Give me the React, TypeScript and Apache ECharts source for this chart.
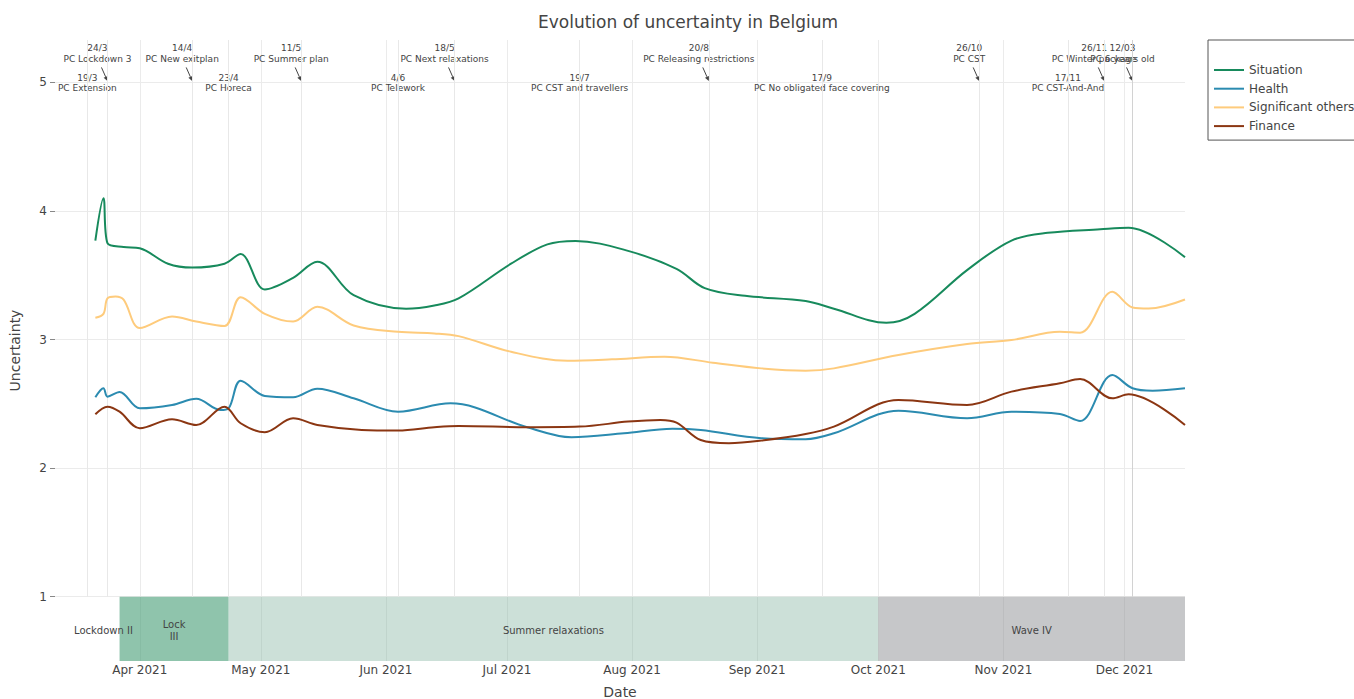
import React, { useEffect, useRef } from 'react';
import * as echarts from 'echarts';

const FONT = 'DejaVu Sans';
const TEXT = '#444';

// ---- data ----
const seriesNames = ['Situation', 'Health', 'Significant others', 'Finance'];
const seriesColors = ['#178a5c', '#2b8bb0', '#fecb7c', '#8b3612'];

const situation: [string, number][] = [
  ['2021-03-21', 3.77], ['2021-03-23', 4.1], ['2021-03-24', 3.75], ['2021-03-28', 3.72],
  ['2021-04-01', 3.71], ['2021-04-08', 3.59], ['2021-04-14', 3.56], ['2021-04-22', 3.59],
  ['2021-04-26', 3.665], ['2021-05-02', 3.39], ['2021-05-09', 3.48], ['2021-05-15', 3.605],
  ['2021-05-24', 3.345], ['2021-06-06', 3.24], ['2021-06-13', 3.265], ['2021-06-19', 3.32],
  ['2021-07-02', 3.59], ['2021-07-11', 3.74], ['2021-07-18', 3.767], ['2021-07-31', 3.69],
  ['2021-08-12', 3.55], ['2021-08-19', 3.4], ['2021-08-29', 3.34], ['2021-09-13', 3.3],
  ['2021-09-20', 3.24], ['2021-10-03', 3.13], ['2021-10-10', 3.2], ['2021-10-23', 3.54],
  ['2021-11-03', 3.77], ['2021-11-12', 3.83], ['2021-11-25', 3.858], ['2021-12-02', 3.87],
  ['2021-12-16', 3.64],
];

const health: [string, number][] = [
  ['2021-03-21', 2.551], ['2021-03-23', 2.621], ['2021-03-24', 2.556], ['2021-03-27', 2.592],
  ['2021-04-01', 2.465], ['2021-04-09', 2.491], ['2021-04-15', 2.54], ['2021-04-21', 2.452],
  ['2021-04-23', 2.465], ['2021-04-26', 2.68], ['2021-05-02', 2.561], ['2021-05-09', 2.551],
  ['2021-05-15', 2.618], ['2021-05-24', 2.543], ['2021-06-04', 2.439], ['2021-06-17', 2.504],
  ['2021-07-06', 2.318], ['2021-07-17', 2.24], ['2021-07-30', 2.271], ['2021-08-11', 2.307],
  ['2021-08-18', 2.297], ['2021-09-02', 2.233], ['2021-09-13', 2.225], ['2021-09-20', 2.271],
  ['2021-10-06', 2.447], ['2021-10-23', 2.388], ['2021-11-03', 2.439], ['2021-11-15', 2.421],
  ['2021-11-20', 2.367], ['2021-11-28', 2.724], ['2021-12-03', 2.621], ['2021-12-08', 2.602],
  ['2021-12-16', 2.621],
];

const significantOthers: [string, number][] = [
  ['2021-03-21', 3.17], ['2021-03-23', 3.2], ['2021-03-24', 3.32], ['2021-03-26', 3.335],
  ['2021-03-28', 3.31], ['2021-04-01', 3.09], ['2021-04-09', 3.18], ['2021-04-15', 3.14],
  ['2021-04-22', 3.105], ['2021-04-26', 3.33], ['2021-05-02', 3.2], ['2021-05-09', 3.14],
  ['2021-05-15', 3.255], ['2021-05-24', 3.11], ['2021-06-04', 3.06], ['2021-06-13', 3.048],
  ['2021-06-19', 3.027], ['2021-07-02', 2.905], ['2021-07-16', 2.835], ['2021-07-27', 2.846],
  ['2021-08-09', 2.867], ['2021-08-21', 2.82], ['2021-09-02', 2.776], ['2021-09-13', 2.758],
  ['2021-09-20', 2.776], ['2021-10-06', 2.88], ['2021-10-23', 2.965], ['2021-11-03', 2.996],
  ['2021-11-15', 3.06], ['2021-11-20', 3.053], ['2021-11-28', 3.371], ['2021-12-03', 3.25],
  ['2021-12-07', 3.242], ['2021-12-16', 3.312],
];

const finance: [string, number][] = [
  ['2021-03-21', 2.419], ['2021-03-24', 2.478], ['2021-03-27', 2.439], ['2021-04-01', 2.31],
  ['2021-04-09', 2.38], ['2021-04-15', 2.336], ['2021-04-22', 2.478], ['2021-04-26', 2.349],
  ['2021-05-02', 2.279], ['2021-05-09', 2.388], ['2021-05-15', 2.336], ['2021-05-26', 2.297],
  ['2021-06-04', 2.292], ['2021-06-13', 2.318], ['2021-06-19', 2.328], ['2021-07-06', 2.318],
  ['2021-07-19', 2.323], ['2021-07-31', 2.362], ['2021-08-08', 2.375], ['2021-08-12', 2.354],
  ['2021-08-18', 2.219], ['2021-08-25', 2.194], ['2021-09-02', 2.214], ['2021-09-13', 2.265],
  ['2021-09-20', 2.323], ['2021-10-06', 2.53], ['2021-10-23', 2.491], ['2021-11-03', 2.595],
  ['2021-11-15', 2.66], ['2021-11-20', 2.693], ['2021-11-28', 2.543], ['2021-12-02', 2.574],
  ['2021-12-16', 2.336],
];

const xTickDates = ['2021-04-01', '2021-05-01', '2021-06-01', '2021-07-01', '2021-08-01',
  '2021-09-01', '2021-10-01', '2021-11-01', '2021-12-01'];
const xTickLabels = ['Apr 2021', 'May 2021', 'Jun 2021', 'Jul 2021', 'Aug 2021',
  'Sep 2021', 'Oct 2021', 'Nov 2021', 'Dec 2021'];
const yTickValues = [1, 2, 3, 4, 5];

// phases: [name, start, end, color]
const phases: [string, string, string, string][] = [
  ['Lockdown II', '2021-03-19', '2021-03-27', 'rgba(255,255,255,0)'],
  ['Lock\nIII', '2021-03-27', '2021-04-23', 'rgba(68,157,117,0.6)'],
  ['Summer relaxations', '2021-04-23', '2021-10-01', 'rgba(128,178,158,0.4)'],
  ['Wave IV', '2021-10-01', '2021-12-16', 'rgba(141,143,147,0.5)'],
];

// annotations: [date, date label, text, withArrow]
const annotations: [string, string, string, boolean][] = [
  ['2021-03-19', '19/3', 'PC Extension', false],
  ['2021-03-24', '24/3', 'PC Lockdown 3', true],
  ['2021-04-14', '14/4', 'PC New exitplan', true],
  ['2021-04-23', '23/4', 'PC Horeca', false],
  ['2021-05-11', '11/5', 'PC Summer plan', true],
  ['2021-06-04', '4/6', 'PC Telework', false],
  ['2021-06-18', '18/5', 'PC Next relaxations', true],
  ['2021-07-19', '19/7', 'PC CST and travellers', false],
  ['2021-08-20', '20/8', 'PC Releasing restrictions', true],
  ['2021-09-17', '17/9', 'PC No obligated face covering', false],
  ['2021-10-26', '26/10', 'PC CST', true],
  ['2021-11-17', '17/11', 'PC CST-And-And', false],
  ['2021-11-26', '26/11', 'PC Winter package', true],
  ['2021-12-03', '12/03', 'PC 6 years old', true],
];

const X_MIN = '2021-03-11';
const X_MAX = '2021-12-16';
const Y_MIN = 0.5;
const Y_MAX = 5.33;

const t = (s: string) => {
  const [y, m, d] = s.split('-').map(Number);
  return Date.UTC(y, m - 1, d);
};

export default function App() {
  const ref = useRef<HTMLDivElement>(null);

  useEffect(() => {
    const chart = echarts.init(ref.current!, null, { renderer: 'svg', width: 1354, height: 699 });
    const tickTs = xTickDates.map(t);
    const allData = [situation, health, significantOthers, finance];

    const lineSeries = allData.map((d, i) => ({
      name: seriesNames[i],
      type: 'line',
      data: d.map(([dt, v]) => [t(dt), v]),
      smooth: 0.35,
      symbol: 'none',
      lineStyle: { width: 2, color: seriesColors[i] },
      itemStyle: { color: seriesColors[i] },
      z: 5,
    }));

    const option: any = {
      animation: false,
      textStyle: { fontFamily: FONT, color: TEXT },
      title: {
        text: 'Evolution of uncertainty in Belgium',
        left: 538,
        top: 13,
        padding: 0,
        textStyle: { fontFamily: FONT, fontSize: 17, fontWeight: 'normal', color: TEXT },
      },
      legend: {
        data: seriesNames,
        orient: 'vertical',
        left: 1208,
        top: 40,
        padding: [24, 6, 8, 5],
        itemWidth: 30,
        itemHeight: 12,
        itemGap: 6.7,
        borderColor: '#555',
        borderWidth: 1,
        backgroundColor: '#fff',
        itemStyle: { opacity: 0 },
        lineStyle: { width: 2 },
        textStyle: { fontFamily: FONT, fontSize: 12, color: TEXT },
      },
      grid: { left: 55, right: 169, top: 40, bottom: 38, outerBoundsMode: 'none' },
      xAxis: {
        type: 'value',
        min: t(X_MIN),
        max: t(X_MAX),
        name: 'Date',
        nameLocation: 'middle',
        nameGap: 24,
        nameTextStyle: { fontFamily: FONT, fontSize: 14, color: TEXT },
        axisLine: { show: false },
        axisTick: { show: false, customValues: tickTs },
        axisLabel: {
          customValues: tickTs,
          margin: 3,
          fontSize: 12,
          color: TEXT,
          fontFamily: FONT,
          formatter: (v: number) => {
            let best = 0;
            tickTs.forEach((ts, i) => {
              if (Math.abs(ts - v) < Math.abs(tickTs[best] - v)) best = i;
            });
            return xTickLabels[best];
          },
        },
        splitLine: { show: true, lineStyle: { color: '#ebebeb', width: 1 } },
      },
      yAxis: {
        type: 'value',
        min: Y_MIN,
        max: Y_MAX,
        name: 'Uncertainty',
        nameLocation: 'middle',
        nameGap: 33,
        nameTextStyle: { fontFamily: FONT, fontSize: 14, color: TEXT },
        axisLine: { show: false },
        axisTick: { show: true, length: 5, customValues: yTickValues, lineStyle: { color: '#888' } },
        axisLabel: {
          customValues: yTickValues,
          margin: 8,
          fontSize: 12,
          color: TEXT,
          fontFamily: FONT,
        },
        splitLine: { show: true, lineStyle: { color: '#ebebeb', width: 1 } },
      },
      series: [
        {
          name: 'phases',
          type: 'line',
          data: [],
          silent: true,
          z: 1,
          markArea: {
            silent: true,
            data: phases.map(([name, s, e, color]) => [
              {
                name,
                coord: [t(s), Y_MIN],
                itemStyle: { color },
                label: {
                  show: true,
                  position: 'inside',
                  offset: [0, 2],
                  color: TEXT,
                  fontSize: 10,
                  lineHeight: 12,
                  fontFamily: FONT,
                },
              },
              { coord: [t(e), 1] },
            ]),
          },
        },
        {
          name: 'events',
          type: 'line',
          data: [],
          silent: true,
          z: 2,
          markLine: {
            silent: true,
            symbol: 'none',
            label: { show: false },
            data: annotations.map(([d]) => [
              {
                coord: [t(d), 1],
                lineStyle: { color: d === '2021-12-03' ? '#d2d2d2' : '#e8e8e8', width: 1, type: 'solid' },
              },
              { coord: [t(d), Y_MAX] },
            ]),
          },
        },
        ...lineSeries,
      ],
    };

    chart.setOption(option);

    const graphics: any[] = [
      {
        type: 'text',
        x: 1211,
        y: 51,
        style: {
          text: 'Type of uncertainty',
          fill: TEXT,
          fontSize: 11,
          fontFamily: FONT,
          verticalAlign: 'middle',
        },
      },
    ];

    annotations.forEach(([d, dl, txt, arrow]) => {
      const p = chart.convertToPixel({ xAxisIndex: 0, yAxisIndex: 0 }, [t(d), 5]) as number[];
      const x = p[0];
      const y = p[1];
      if (arrow) {
        graphics.push({
          type: 'text',
          x: x - 10,
          y: y - 29,
          style: {
            text: dl + '\n' + txt,
            fill: TEXT,
            fontSize: 9,
            fontFamily: FONT,
            align: 'center',
            verticalAlign: 'middle',
            lineHeight: 10.5,
          },
        });
        const tailX = x - 6;
        const tailY = y - 15;
        const tipX = x;
        const tipY = y - 1.5;
        const dx = tipX - tailX;
        const dy = tipY - tailY;
        const len = Math.sqrt(dx * dx + dy * dy);
        const ux = dx / len;
        const uy = dy / len;
        const hl = 4.5;
        const hw = 2.2;
        const bx = tipX - ux * hl;
        const by = tipY - uy * hl;
        graphics.push({
          type: 'line',
          shape: { x1: tailX, y1: tailY, x2: bx, y2: by },
          style: { stroke: TEXT, lineWidth: 1 },
        });
        graphics.push({
          type: 'polygon',
          shape: {
            points: [
              [tipX, tipY],
              [bx - uy * hw, by + ux * hw],
              [bx + uy * hw, by - ux * hw],
            ],
          },
          style: { fill: TEXT },
        });
      } else {
        graphics.push({
          type: 'text',
          x: x,
          y: y + 0.5,
          style: {
            text: dl + '\n' + txt,
            fill: TEXT,
            fontSize: 9,
            fontFamily: FONT,
            align: 'center',
            verticalAlign: 'middle',
            lineHeight: 10.5,
          },
        });
      }
    });

    chart.setOption({ graphic: graphics });

    return () => chart.dispose();
  }, []);

  return (
    <div
      ref={ref}
      style={{ position: 'fixed', left: 0, top: 0, width: 1354, height: 699, background: '#fff' }}
    />
  );
}
